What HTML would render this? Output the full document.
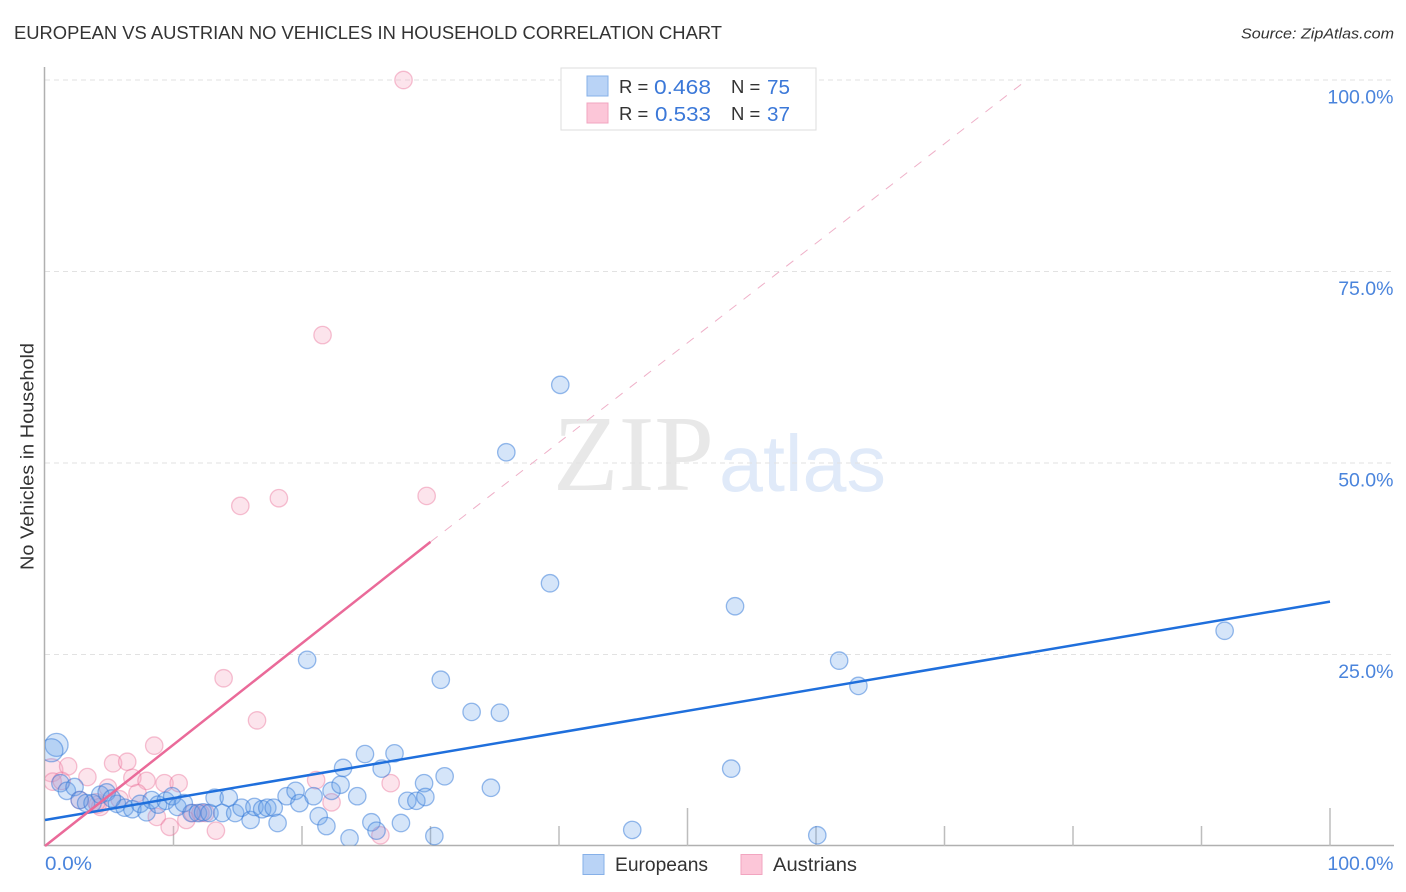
<!DOCTYPE html>
<html lang="en">
<head>
<meta charset="utf-8">
<title>European vs Austrian No Vehicles in Household Correlation Chart</title>
<style>
html,body{margin:0;padding:0;background:#fff;}
body{width:1406px;height:892px;overflow:hidden;}
svg{display:block;font-family:"Liberation Sans",sans-serif;}
</style>
</head>
<body>
<svg id="chart" xmlns="http://www.w3.org/2000/svg" width="1406" height="892" viewBox="0 0 1406 892">
  <defs>
    <clipPath id="plot-clip"><rect x="45" y="60" width="1349" height="785.5"/></clipPath>
  </defs>
  <rect x="0" y="0" width="1406" height="892" fill="#ffffff"/>
  <text x="14" y="39" font-size="18" fill="#333333" textLength="708" lengthAdjust="spacingAndGlyphs">EUROPEAN VS AUSTRIAN NO VEHICLES IN HOUSEHOLD CORRELATION CHART</text>
  <text x="1241" y="38.500" font-size="15" font-style="italic" fill="#333333" textLength="153" lengthAdjust="spacingAndGlyphs">Source: ZipAtlas.com</text>
  <g id="watermark">
    <text x="553" y="490" font-family="'Liberation Serif',serif" font-size="108" fill="#e8e8e8" textLength="161" lengthAdjust="spacingAndGlyphs">ZIP</text>
    <text x="719" y="491" font-size="80" fill="#e0eaf9" textLength="167" lengthAdjust="spacingAndGlyphs">atlas</text>
  </g>
  <g id="grid"></g>
  <g id="axes"></g>
  <g id="trend-lines" clip-path="url(#plot-clip)"></g>
  <g id="points" clip-path="url(#plot-clip)"></g>
  <g id="trend-solid"></g>
  <g id="tick-labels"></g>
  <text transform="translate(33.500,570) rotate(-90)" font-size="18" fill="#333333" textLength="227" lengthAdjust="spacingAndGlyphs">No Vehicles in Household</text>

  <g>
    <rect x="561" y="68" width="255" height="62" fill="#ffffff" stroke="#dddddd" stroke-width="1"/>
    <rect x="587" y="76" width="21" height="20" fill="#b9d3f6" stroke="#86b0e8" stroke-width="1"/>
    <rect x="587" y="103" width="21" height="20" fill="#fcc6d8" stroke="#f2a5c0" stroke-width="1"/>
    <text x="619" y="93" font-size="18.500" fill="#333333">R =</text>
    <text x="654" y="94" font-size="20.500" fill="#3b78d8" textLength="57" lengthAdjust="spacingAndGlyphs">0.468</text>
    <text x="731" y="93" font-size="18.500" fill="#333333">N =</text>
    <text x="767" y="94" font-size="20.500" fill="#3b78d8" textLength="23" lengthAdjust="spacingAndGlyphs">75</text>
    <text x="619" y="120" font-size="18.500" fill="#333333">R =</text>
    <text x="655" y="121" font-size="20.500" fill="#3b78d8" textLength="56" lengthAdjust="spacingAndGlyphs">0.533</text>
    <text x="731" y="120" font-size="18.500" fill="#333333">N =</text>
    <text x="767" y="121" font-size="20.500" fill="#3b78d8" textLength="23" lengthAdjust="spacingAndGlyphs">37</text>
  </g>

  <g>
    <rect x="583" y="854.500" width="21" height="20" fill="#b9d3f6" stroke="#86b0e8" stroke-width="1"/>
    <text x="615" y="871" font-size="19" fill="#333333" textLength="93" lengthAdjust="spacingAndGlyphs">Europeans</text>
    <rect x="741" y="854.500" width="21" height="20" fill="#fcc6d8" stroke="#f2a5c0" stroke-width="1"/>
    <text x="773" y="871" font-size="19" fill="#333333" textLength="84" lengthAdjust="spacingAndGlyphs">Austrians</text>
  </g>
</svg>
<script>
var europeanX = [0.9,0.5,1.2,1.7,2.3,2.7,3.2,3.7,4.3,4.8,5.6,6.2,6.8,7.4,7.9,8.3,8.8,9.4,9.9,10.3,10.8,11.4,11.9,12.3,12.8,13.2,13.8,14.3,14.8,15.3,16.0,16.3,16.9,17.3,17.8,18.1,18.8,19.5,19.8,20.9,21.3,21.9,22.3,23.0,23.2,24.3,23.7,24.9,26.2,27.2,25.4,25.8,27.7,28.2,28.9,29.5,29.6,31.1,30.3,34.7,33.2,35.4,30.8,20.4,35.9,40.1,39.3,53.7,61.8,63.3,53.4,45.7,60.1,91.8,5.2];
var europeanY = [13.2,12.5,8.2,7.2,7.7,6.0,5.6,5.6,6.7,7.0,5.5,5.0,4.8,5.5,4.4,6.0,5.4,5.9,6.5,5.1,5.6,4.3,4.3,4.4,4.3,6.3,4.3,6.3,4.3,5.0,3.4,5.1,4.8,5.0,5.0,3.0,6.5,7.2,5.6,6.5,3.9,2.6,7.2,8.0,10.2,6.5,1.0,12.0,10.1,12.1,3.1,2.0,3.0,5.9,5.9,8.2,6.4,9.1,1.3,7.6,17.5,17.4,21.7,24.3,51.4,60.2,34.3,31.3,24.2,20.9,10.1,2.1,1.4,28.1,6.2];
var austrianX = [0.5,1.8,0.6,1.3,3.3,5.3,6.4,8.5,6.8,7.9,9.3,10.4,7.2,4.9,5.8,2.7,4.1,4.3,8.7,9.7,11.0,11.5,12.1,12.5,13.3,16.5,13.9,15.2,18.2,21.6,27.9,29.7,21.1,22.3,26.9,26.1,4.0];
var austrianY = [9.9,10.4,8.4,8.5,9.0,10.8,11.0,13.1,8.9,8.5,8.2,8.2,6.9,7.6,6.1,6.0,5.4,5.1,3.8,2.5,3.4,4.3,4.3,4.3,2.0,16.4,21.9,44.4,45.4,66.7,100,45.7,8.6,5.7,8.2,1.4,5.7];
var europeanLargeFlags = [1,1];
var austrianLargeFlags = [1];
var europeanTrendX = [0,100];
var europeanTrendY = [3.4,31.9];
var austrianTrendX = [0,30];
var austrianTrendY = [0,39.7];
var austrianTrendExtX = [30,76.4];
var austrianTrendExtY = [39.7,100];
var gridValues = [25,50,75,100];
var yTickLabels = ["25.0%","50.0%","75.0%","100.0%"];
var xTickValues = [10,20,30,40,50,60,70,80,90,100];
var xMajorTicks = [50,100];
var xEndLabels = ["0.0%","100.0%"];

var NS = "http://www.w3.org/2000/svg";
function xScale(v){return 45 + v * 12.85;}
function yScale(v){return 846 - v * 7.66;}
function make(tag, parent, attrs){
  var el = document.createElementNS(NS, tag);
  for (var k in attrs){el.setAttribute(k, attrs[k]);}
  parent.appendChild(el);
  return el;
}

var gridG = document.getElementById('grid');
gridValues.forEach(function(v){
  var gl = make('line', gridG, {x1:45, x2:1394, y1:yScale(v), y2:yScale(v), stroke:'#e2e2e2', 'stroke-width':1, 'stroke-dasharray':'5 4'});
  
  
});

var axesG = document.getElementById('axes');
var yAxisLine = make('line', axesG, {x1:44.5, x2:44.5, y1:67, y2:846, stroke:'#b0b0b0', 'stroke-width':1.5});


var xAxisLine = make('line', axesG, {x1:44, x2:1394, y1:845.5, y2:845.5, stroke:'#b0b0b0', 'stroke-width':1.5});


xTickValues.forEach(function(v){
  var tall = xMajorTicks.indexOf(v) >= 0;
  var tk = make('line', axesG, {x1:xScale(v), x2:xScale(v), y1:tall ? 808 : 826, y2:846, stroke:'#bdbdbd', 'stroke-width':1.5});
  
  
});

var trendG = document.getElementById('trend-lines');
var ext = make('line', trendG, {x1:xScale(austrianTrendExtX[0]), y1:yScale(austrianTrendExtY[0]), x2:xScale(austrianTrendExtX[1]), y2:yScale(austrianTrendExtY[1]), stroke:'#efb0c8', 'stroke-width':1, 'stroke-dasharray':'9 9'});



var pointsG = document.getElementById('points');
function drawPoints(xs, ys, flags, fill, stroke, name){
  xs.forEach(function(v, i){
    var c = make('circle', pointsG, {cx:xScale(v), cy:yScale(ys[i]), r:flags[i] ? 11.5 : 8.7, fill:fill, stroke:stroke, 'stroke-width':1.3});
    
    
  });
}
drawPoints(austrianX, austrianY, austrianLargeFlags, 'rgba(246,165,192,0.30)', 'rgba(234,110,150,0.42)', 'austrian-point');
drawPoints(europeanX, europeanY, europeanLargeFlags, 'rgba(105,160,235,0.28)', 'rgba(50,120,215,0.5)', 'european-point');

var solidG = document.getElementById('trend-solid');
var blueLine = make('line', solidG, {x1:xScale(europeanTrendX[0]), y1:yScale(europeanTrendY[0]), x2:xScale(europeanTrendX[1]), y2:yScale(europeanTrendY[1]), stroke:'#1f6fdc', 'stroke-width':2.5});


var pinkLine = make('line', solidG, {x1:xScale(austrianTrendX[0]), y1:yScale(austrianTrendY[0]), x2:xScale(austrianTrendX[1]), y2:yScale(austrianTrendY[1]), stroke:'#ea6a99', 'stroke-width':2.5});



var labelsG = document.getElementById('tick-labels');
gridValues.forEach(function(v, i){
  var t = make('text', labelsG, {x:1393.5, y:yScale(v) + 23.5, 'text-anchor':'end', 'font-size':19.5, fill:'#4a84dc'});
  t.textContent = yTickLabels[i];
  
  
});
var x0 = make('text', labelsG, {x:45, y:870, 'font-size':19.5, fill:'#4a84dc', textLength:47, lengthAdjust:'spacingAndGlyphs'});
x0.textContent = xEndLabels[0];


var x1 = make('text', labelsG, {x:1393.5, y:870, 'text-anchor':'end', 'font-size':19.5, fill:'#4a84dc'});
x1.textContent = xEndLabels[1];


</script>
</body>
</html>
